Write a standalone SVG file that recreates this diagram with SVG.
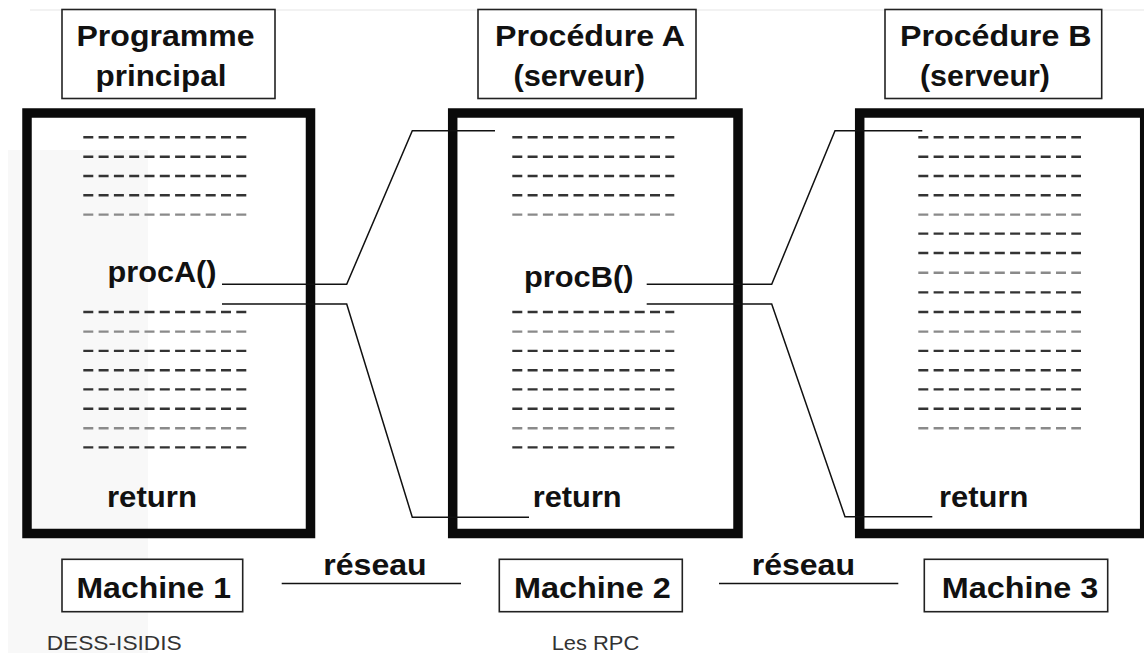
<svg xmlns="http://www.w3.org/2000/svg" width="1144" height="653" viewBox="0 0 1144 653">
<style>
  .bg{fill:#ffffff}
  .lbl{fill:#ffffff;stroke:#222;stroke-width:1.6}
  .mach{fill:none;stroke:#0a0a0a;stroke-width:9.5}
  .t{font-family:"Liberation Sans",Arial,sans-serif;font-weight:bold;font-size:29.5px;fill:#111}
  .s{font-family:"Liberation Sans",Arial,sans-serif;font-size:20px;fill:#333}
  .d{stroke:#333;stroke-width:2.4;stroke-dasharray:10 5.3;fill:none}
  .g{stroke:#8a8a8a;stroke-width:2.4;stroke-dasharray:10 5.3;fill:none}
  .c{stroke:#111;stroke-width:1.5;fill:none}
</style>
<rect class="bg" x="0" y="0" width="1144" height="653"/>
<rect x="8" y="150" width="140" height="503" fill="#f8f8f8"/>
<line x1="30" y1="10" x2="1144" y2="10" stroke="#eeeeee" stroke-width="1.5"/>

<g id="label-programme">
  <rect class="lbl" x="62" y="9.5" width="213" height="89"/>
  <text class="t" x="76.5" y="46" textLength="178" lengthAdjust="spacingAndGlyphs">Programme</text>
  <text class="t" x="95.5" y="86" textLength="131" lengthAdjust="spacingAndGlyphs">principal</text>
</g>
<g id="label-procA">
  <rect class="lbl" x="478" y="9.5" width="218" height="89"/>
  <text class="t" x="495" y="46" textLength="190" lengthAdjust="spacingAndGlyphs">Procédure A</text>
  <text class="t" x="513.5" y="86" textLength="131.5" lengthAdjust="spacingAndGlyphs">(serveur)</text>
</g>
<g id="label-procB">
  <rect class="lbl" x="885" y="9.5" width="216.7" height="89"/>
  <text class="t" x="900" y="46" textLength="191.5" lengthAdjust="spacingAndGlyphs">Procédure B</text>
  <text class="t" x="920" y="86" textLength="130" lengthAdjust="spacingAndGlyphs">(serveur)</text>
</g>

<g id="machine1-box">
  <rect class="mach" x="27" y="113" width="283.5" height="420.5"/>
  <g>
    <line class="d" x1="83.3" y1="137.3" x2="246.7" y2="137.3"/>
    <line class="d" x1="83.3" y1="156.7" x2="246.7" y2="156.7"/>
    <line class="d" x1="83.3" y1="176" x2="246.7" y2="176"/>
    <line class="d" x1="83.3" y1="195.3" x2="246.7" y2="195.3"/>
    <line class="g" x1="83.3" y1="214.6" x2="246.7" y2="214.6"/>
    <line class="d" x1="83.3" y1="312" x2="246.7" y2="312"/>
    <line class="g" x1="83.3" y1="331.6" x2="246.7" y2="331.6"/>
    <line class="d" x1="83.3" y1="350.9" x2="246.7" y2="350.9"/>
    <line class="d" x1="83.3" y1="370.2" x2="246.7" y2="370.2"/>
    <line class="d" x1="83.3" y1="389.4" x2="246.7" y2="389.4"/>
    <line class="d" x1="83.3" y1="408.8" x2="246.7" y2="408.8"/>
    <line class="g" x1="83.3" y1="428.3" x2="246.7" y2="428.3"/>
    <line class="d" x1="83.3" y1="447.4" x2="246.7" y2="447.4"/>
  </g>
  <text class="t" x="107.5" y="282" textLength="109" lengthAdjust="spacingAndGlyphs">procA()</text>
  <text class="t" x="107" y="507" textLength="90" lengthAdjust="spacingAndGlyphs">return</text>
</g>

<g id="machine2-box">
  <rect class="mach" x="452.7" y="113" width="285.3" height="420.5"/>
  <g>
    <line class="d" x1="512.3" y1="137.3" x2="674.3" y2="137.3"/>
    <line class="d" x1="512.3" y1="156.7" x2="674.3" y2="156.7"/>
    <line class="d" x1="512.3" y1="176" x2="674.3" y2="176"/>
    <line class="d" x1="512.3" y1="195.3" x2="674.3" y2="195.3"/>
    <line class="g" x1="512.3" y1="214.6" x2="674.3" y2="214.6"/>
    <line class="d" x1="512.3" y1="312" x2="674.3" y2="312"/>
    <line class="g" x1="512.3" y1="331.6" x2="674.3" y2="331.6"/>
    <line class="d" x1="512.3" y1="350.9" x2="674.3" y2="350.9"/>
    <line class="d" x1="512.3" y1="370.2" x2="674.3" y2="370.2"/>
    <line class="d" x1="512.3" y1="389.4" x2="674.3" y2="389.4"/>
    <line class="d" x1="512.3" y1="408.8" x2="674.3" y2="408.8"/>
    <line class="g" x1="512.3" y1="428.3" x2="674.3" y2="428.3"/>
    <line class="d" x1="512.3" y1="447.4" x2="674.3" y2="447.4"/>
  </g>
  <text class="t" x="524" y="287" textLength="109.5" lengthAdjust="spacingAndGlyphs">procB()</text>
  <text class="t" x="532.7" y="507" textLength="89" lengthAdjust="spacingAndGlyphs">return</text>
</g>

<g id="machine3-box">
  <rect class="mach" x="859.7" y="113" width="285" height="420.5"/>
  <g>
    <line class="d" x1="918.3" y1="137.3" x2="1081" y2="137.3"/>
    <line class="d" x1="918.3" y1="156.7" x2="1081" y2="156.7"/>
    <line class="d" x1="918.3" y1="176" x2="1081" y2="176"/>
    <line class="d" x1="918.3" y1="195.3" x2="1081" y2="195.3"/>
    <line class="g" x1="918.3" y1="214.6" x2="1081" y2="214.6"/>
    <line class="d" x1="918.3" y1="233.6" x2="1081" y2="233.6"/>
    <line class="d" x1="918.3" y1="253" x2="1081" y2="253"/>
    <line class="g" x1="918.3" y1="272.8" x2="1081" y2="272.8"/>
    <line class="d" x1="918.3" y1="292.4" x2="1081" y2="292.4"/>
    <line class="d" x1="918.3" y1="312" x2="1081" y2="312"/>
    <line class="g" x1="918.3" y1="331.6" x2="1081" y2="331.6"/>
    <line class="d" x1="918.3" y1="350.9" x2="1081" y2="350.9"/>
    <line class="d" x1="918.3" y1="370.2" x2="1081" y2="370.2"/>
    <line class="d" x1="918.3" y1="389.4" x2="1081" y2="389.4"/>
    <line class="d" x1="918.3" y1="408.8" x2="1081" y2="408.8"/>
    <line class="g" x1="918.3" y1="428.3" x2="1081" y2="428.3"/>
  </g>
  <text class="t" x="939" y="507" textLength="89.3" lengthAdjust="spacingAndGlyphs">return</text>
</g>

<g id="connectors">
  <polyline class="c" points="222,284.3 346.7,284.3 412.3,130.7 495,130.7"/>
  <polyline class="c" points="222,304 346.7,304 412.3,517.3 529,517.3"/>
  <polyline class="c" points="646.7,284.3 771.7,284.3 835,130.7 922.3,130.7"/>
  <polyline class="c" points="646.7,304 771.7,304 845,516.7 932.3,516.7"/>
</g>

<g id="machine1">
  <rect class="lbl" x="62" y="559.3" width="180.7" height="52.4"/>
  <text class="t" x="76.5" y="598" textLength="154.5" lengthAdjust="spacingAndGlyphs">Machine 1</text>
</g>
<g id="machine2">
  <rect class="lbl" x="499.3" y="559.3" width="183" height="52.4"/>
  <text class="t" x="514" y="598" textLength="156.7" lengthAdjust="spacingAndGlyphs">Machine 2</text>
</g>
<g id="machine3">
  <rect class="lbl" x="924.3" y="559.3" width="183.4" height="52.4"/>
  <text class="t" x="941.7" y="598" textLength="156.6" lengthAdjust="spacingAndGlyphs">Machine 3</text>
</g>

<g id="reseau1">
  <line class="c" x1="281.7" y1="583.5" x2="461" y2="583.5"/>
  <text class="t" x="323.3" y="574.5" textLength="103.4" lengthAdjust="spacingAndGlyphs">réseau</text>
</g>
<g id="reseau2">
  <line class="c" x1="719" y1="583.5" x2="898.3" y2="583.5"/>
  <text class="t" x="751.7" y="574.5" textLength="103.3" lengthAdjust="spacingAndGlyphs">réseau</text>
</g>

<g id="footer">
  <text class="s" x="46.7" y="649.5" textLength="135" lengthAdjust="spacingAndGlyphs">DESS-ISIDIS</text>
  <text class="s" x="551.7" y="649.5" textLength="87.6" lengthAdjust="spacingAndGlyphs">Les RPC</text>
</g>
</svg>
